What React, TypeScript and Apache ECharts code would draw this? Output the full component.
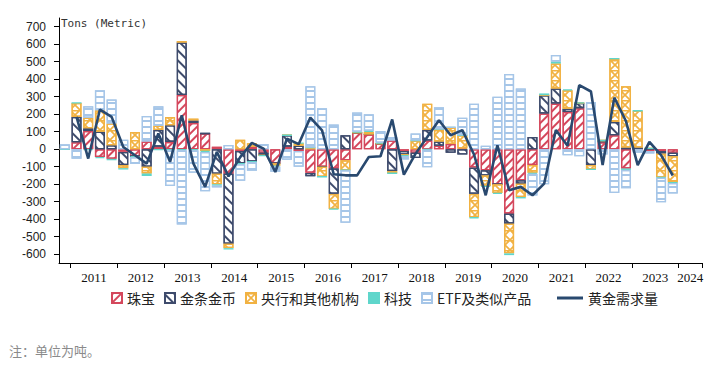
import React, { useEffect, useRef } from "react";
import * as echarts from "echarts";

// quarters: 2010Q4 ... 2023Q4 (53 values), axis extends to 2024Q2
const jewelry = [0, 40, 105, -45, -55, -15, -40, 45, 15, 42,
  310, 150, 90, 15, -140, -10, 15, -20, -80, 15,
  -10, -135, -100, -110, -63, 95, 85, 32, 50, -10,
  -20, 50, 20, 30, 5, -105, -120, -200, -368, -177,
  -90, 204, 261, 213, 235, 0, 40, 80, -110, 0,
  -10, -10, -20];
const barCoin = [0, 145, 15, 100, 23, -75, 0, -100, 95, 95,
  300, 15, 0, -140, -400, -70, -70, -15, 0, 65,
  20, -20, 0, -145, 80, 0, 0, 0, -125, -20,
  -30, 60, 25, -20, -30, -150, -30, 0, -57, -20,
  70, 105, 86, 19, 30, -90, 10, 76, 10, 10,
  5, -15, -20];
const centralBank = [0, 80, 60, 123, 124, -18, 99, -38, 25, 48,
  8, 10, -10, -60, -25, 55, 20, 0, -15, 0,
  15, 10, -57, -86, -57, 0, 15, 0, -12, -5,
  50, 150, 70, 95, 75, -134, -60, -50, -170, -76,
  -45, 0, 143, 105, 0, -25, 0, 362, 350, 210,
  0, -135, -150];
const tech = [0, 0, -5, -6, -8, -8, -5, -15, -5, -5,
  -5, -5, -5, -8, -8, -5, -3, -3, -3, 0,
  0, 0, 0, -3, 0, 5, 5, 5, 0, -3,
  0, -3, 0, 0, 0, -5, -5, -5, -10, -8,
  -5, 10, 12, 5, 0, 0, 0, 0, -8, 0,
  0, -3, -3];
const etf = [28, -55, 66, 114, 137, 55, -40, 145, 110, -205,
  -425, -130, -225, -10, 25, -95, -50, 30, -30, -60,
  -90, 350, 235, 141, -300, 110, 95, 67, 20, -20,
  40, -100, 125, 0, 100, 260, 20, 300, 430, 347,
  -125, -200, 37, -34, -40, 270, -30, -250, -105, -20,
  -15, -140, -60];
const totalDemand = [null, 185, -53, 227, 185, 13, -34, -82, 90, -72,
  194, -82, -215, -15, -155, -45, 36, 4, -130, 61,
  29, 181, 108, -143, -149, -149, -44, -40, 170, -145,
  -25, 70, 166, 80, 109, -30, -263, 23, -234, -215,
  -263, -196, 110, 20, 366, 330, -90, 295, 160, -91,
  42, -34, -150];

const yearLabels = ["2011", "2012", "2013", "2014", "2015", "2016", "2017",
  "2018", "2019", "2020", "2021", "2022", "2023", "2024"];
const seriesNames = ["珠宝", "金条金币", "央行和其他机构", "科技", "ETF及类似产品", "黄金需求量"];

const quarters: string[] = (() => {
  const out = ["2010Q4"];
  for (let y = 2011; y <= 2023; y++) for (let q = 1; q <= 4; q++) out.push(`${y}Q${q}`);
  out.push("2024Q1", "2024Q2");
  return out;
})();
const pad = (a: (number | null)[]) => [...a, ...new Array(quarters.length - a.length).fill(null)];
// year label positions on the band scale (edge units)
const yearPos: Record<number, string> = {};
yearLabels.forEach((y, k) => {
  yearPos[k < 13 ? 3 + 4 * k : 54] = y;
});

const RED = "#d4475c";
const NAVY = "#3e4b6c";
const ORANGE = "#f1b243";
const TEAL = "#5fd6cb";
const BLUE = "#a6c6e8";
const LINE = "#29496f";

const stripe = (color: string, rotation: number, gap: number) => ({
  symbol: "rect",
  symbolSize: 1,
  color,
  dashArrayX: [1, 0],
  dashArrayY: [2, gap],
  rotation,
});

const App: React.FC = () => {
  const ref = useRef<HTMLDivElement>(null);
  useEffect(() => {
    if (!ref.current) return;
    const chart = echarts.init(ref.current, null, { renderer: "svg" });
    const barBase = (name: string, data: number[], color: string, decal: any) => ({
      name,
      type: "bar",
      stack: "total",
      xAxisIndex: 0,
      yAxisIndex: 0,
      barWidth: 10,
      data: pad(data),
      itemStyle: { color: decal ? "#ffffff" : color, borderColor: color, borderWidth: 1.3, decal: decal || undefined },
    });
    const option: any = {
      animation: false,
      grid: [
        { left: 59, right: 25, top: 18, bottom: 107 },
        { left: 59, right: 25, top: 26.5, bottom: 116 },
      ],
      xAxis: [
        {
          type: "category",
          gridIndex: 0,
          data: quarters,
          position: "bottom",
          axisLine: { onZero: false, lineStyle: { color: "#000", width: 1 } },
          axisTick: { show: true, length: 5, interval: (i: number) => i % 4 === 1, lineStyle: { color: "#000" } },
          axisLabel: { show: false },
          splitLine: { show: false },
        },
        {
          type: "value",
          gridIndex: 0,
          min: 0,
          max: 55,
          interval: 1,
          position: "bottom",
          axisLine: { show: false },
          axisTick: { show: false },
          splitLine: { show: false },
          axisLabel: {
            margin: 8,
            formatter: (v: number) => yearPos[Math.round(v)] || "",
            fontFamily: "Liberation Serif",
            fontSize: 13,
            color: "#111",
          },
        },
        { type: "value", gridIndex: 1, show: false, min: 0, max: 1 },
      ],
      yAxis: [
        {
          type: "value",
          gridIndex: 0,
          min: -650,
          max: 750,
          axisLine: { show: true, lineStyle: { color: "#000", width: 1 } },
          axisTick: { show: false },
          axisLabel: { show: false },
          splitLine: { show: false },
        },
        {
          type: "value",
          gridIndex: 1,
          min: -600,
          max: 700,
          interval: 100,
          axisLine: { show: false },
          axisTick: { show: true, length: 5, lineStyle: { color: "#000" } },
          axisLabel: { margin: 13, fontFamily: "Liberation Sans", fontSize: 12, color: "#222" },
          splitLine: { show: false },
        },
      ],
      legend: [
        {
          data: seriesNames.slice(0, 5),
          left: 106,
          top: 286,
          icon: "rect",
          itemWidth: 10,
          itemHeight: 10,
          itemGap: 9,
          textStyle: { fontFamily: "Noto Sans CJK SC", fontSize: 14, color: "#222" },
        },
        {
          data: [seriesNames[5]],
          left: 552,
          top: 286,
          icon: "rect",
          itemWidth: 26,
          itemHeight: 3,
          textStyle: { fontFamily: "Noto Sans CJK SC", fontSize: 14, color: "#222" },
        },
      ],
      graphic: [
        {
          type: "text",
          left: 61,
          top: 18,
          style: { text: "Tons (Metric)", fontFamily: "DejaVu Sans Mono", fontSize: 11, fill: "#333" },
        },
        {
          type: "text",
          left: 9,
          top: 344,
          style: { text: "注：单位为吨。", fontFamily: "Noto Sans CJK SC", fontSize: 13, fill: "#8a8a8a" },
        },
      ],
      series: [
        barBase(seriesNames[0], jewelry, RED, stripe(RED, -Math.PI / 4, 4)),
        barBase(seriesNames[1], barCoin, NAVY, stripe(NAVY, Math.PI / 4, 5)),
        barBase(seriesNames[2], centralBank, ORANGE, {
          symbol: "path://M0,0H10V1.4H0Z M0,0L1.2,0L10,8.8L10,10L8.8,10L0,1.2Z M8.8,0L10,0L10,1.2L1.2,10L0,10L0,8.8Z",
          symbolSize: 1,
          color: ORANGE,
          dashArrayX: [10, 0],
          dashArrayY: [10, 0],
        }),
        barBase(seriesNames[3], tech, TEAL, null),
        barBase(seriesNames[4], etf, BLUE, stripe(BLUE, 0, 4)),
        {
          name: seriesNames[5],
          type: "line",
          xAxisIndex: 0,
          yAxisIndex: 0,
          data: pad(totalDemand),
          symbol: "none",
          z: 10,
          lineStyle: { color: LINE, width: 2.6 },
          itemStyle: { color: LINE },
        },
      ],
    };
    chart.setOption(option);
    return () => chart.dispose();
  }, []);
  return <div ref={ref} style={{ position: "absolute", left: 0, top: 0, width: 727, height: 370 }} />;
};

export default App;
